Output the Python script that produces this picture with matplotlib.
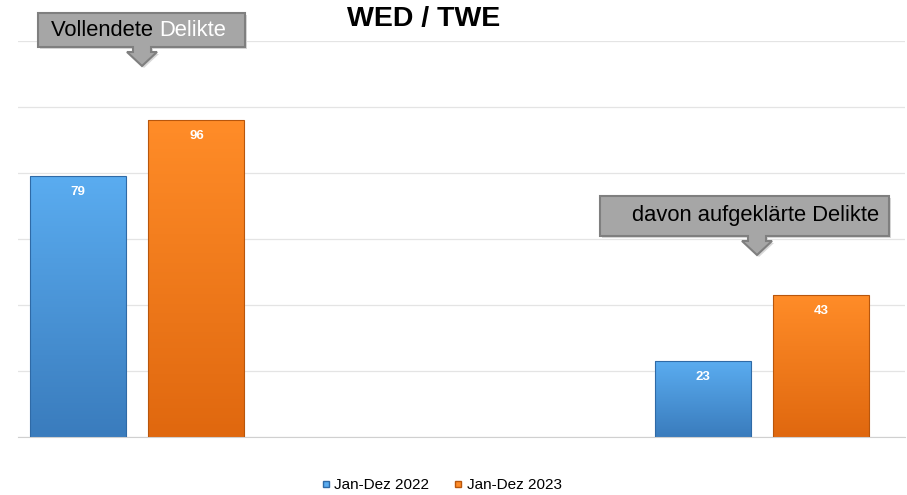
import numpy as np
import matplotlib.pyplot as plt
from matplotlib.patches import Polygon
from matplotlib.colors import LinearSegmentedColormap

plt.rcParams['font.family'] = ['Liberation Sans', 'DejaVu Sans']

# data
categories = ["Vollendete Delikte", "davon aufgeklärte Delikte"]
cat_pos = [0, 2]  # middle slot is empty in the original
series = ["Jan-Dez 2022", "Jan-Dez 2023"]
values_2022 = [79, 23]
values_2023 = [96, 43]
title = "WED / TWE"

W, H = 907, 495
fig = plt.figure(figsize=(W / 100, H / 100), dpi=100)
# axes placed in pixels: left 18, right 905, baseline 437, top 41 (=120)
ax = fig.add_axes([18 / W, 1 - 437 / H, (905 - 18) / W, (437 - 41) / H])

bar_w = 0.307
offset = 0.19
grads = {
    "Jan-Dez 2022": ("#5aacf0", "#3a7cbd", "#2f6aa6"),
    "Jan-Dez 2023": ("#ff8c28", "#e0680f", "#b8560c"),
}


def grad_bar(x, h, top, bottom, edge):
    bar = ax.bar(x, h, bar_w, color="none", edgecolor=edge, linewidth=0.8, zorder=3)[0]
    cmap = LinearSegmentedColormap.from_list("g", [bottom, top])
    img = ax.imshow(np.linspace(0, 1, 100).reshape(-1, 1), cmap=cmap, origin="lower",
                    extent=[x - bar_w / 2, x + bar_w / 2, 0, h], aspect="auto", zorder=2)
    img.set_clip_path(bar)
    ax.text(x, h - 4.8, str(h), ha="center", va="center", color="white",
            fontsize=9.5, fontweight="bold", zorder=4)


for i, p in enumerate(cat_pos):
    top, bottom, edge = grads[series[0]]
    grad_bar(p - offset, values_2022[i], top, bottom, edge)
    top, bottom, edge = grads[series[1]]
    grad_bar(p + offset, values_2023[i], top, bottom, edge)

ax.set_xlim(-0.381, 2.458)
ax.set_ylim(0, 120)
ax.set_yticks(np.arange(0, 121, 20))
ax.set_xticks([])
ax.tick_params(left=False, labelleft=False)
ax.grid(axis="y", color="#e4e4e4", linewidth=0.9, zorder=0)
ax.set_axisbelow(True)
for s in ["top", "right", "left"]:
    ax.spines[s].set_visible(False)
ax.spines["bottom"].set_color("#d0d0d0")

fig.text(424 / W, 1 - 19 / H, title, ha="center", va="center", fontsize=20.5, fontweight="bold")


def px(pts):
    return [(x / W, 1 - y / H) for x, y in pts]


def callout(x0, x1, y0, y1, cx, tip):
    pts = [(x0, y0), (x1, y0), (x1, y1), (cx + 9, y1), (cx + 9, y1 + 5), (cx + 15, y1 + 5),
           (cx, tip), (cx - 15, y1 + 5), (cx - 9, y1 + 5), (cx - 9, y1), (x0, y1)]
    shadow = Polygon(px([(x + 2, y + 2) for x, y in pts]), closed=True, transform=fig.transFigure,
                     facecolor="#d8d8d8", edgecolor="none", zorder=5)
    poly = Polygon(px(pts), closed=True, transform=fig.transFigure,
                   facecolor="#a6a6a6", edgecolor="#7f7f7f", linewidth=1.5, zorder=6)
    fig.patches.extend([shadow, poly])


callout(38, 245, 13, 47, 142, 66)
callout(600, 889, 196, 236, 757, 255)

t = fig.text(51 / W, 1 - 31 / H, "Vollendete ", ha="left", va="center", fontsize=15.8, zorder=7)
fig.canvas.draw()
bb = t.get_window_extent()
fig.text(bb.x1 / W, 1 - 31 / H, "Delikte", ha="left", va="center", fontsize=15.8,
         color="white", zorder=7)
fig.text(632 / W, 1 - 216 / H, categories[1], ha="left", va="center", fontsize=15.8, zorder=7)

# legend
handles = [plt.Line2D([], [], marker="s", linestyle="none", markersize=5,
                      markerfacecolor=grads[s][0], markeredgecolor=grads[s][2]) for s in series]
fig.legend(handles, series, loc="center", bbox_to_anchor=(440 / W, 1 - 485 / H), ncol=2,
           frameon=False, fontsize=11, handletextpad=0.05, columnspacing=1.4, handlelength=1.0)

fig.savefig("out.png", dpi=100)
